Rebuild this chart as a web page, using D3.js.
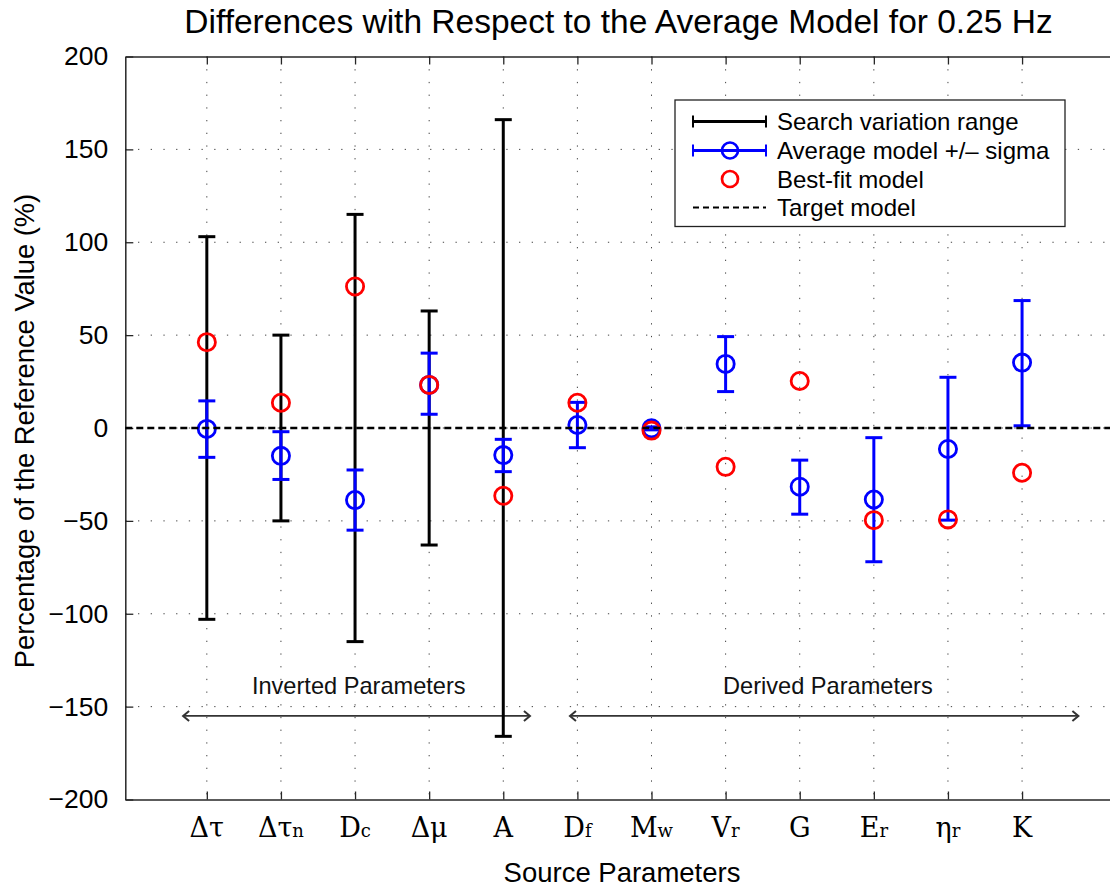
<!DOCTYPE html>
<html>
<head>
<meta charset="utf-8">
<script src="https://cdn.jsdelivr.net/npm/d3@7"></script>
<style>
  html, body { margin: 0; padding: 0; background: #fff; }
  svg { display: block; }
</style>
</head>
<body>
<svg id="chart" width="1110" height="888"></svg>
<script>
// ---------------- data ----------------
const categoryBase = ["Δτ", "Δτ", "D", "Δμ", "A", "D", "M", "V", "G", "E", "η", "K"];
const categorySub  = ["",   "n",  "c", "",   "",  "f", "w", "r", "",  "r", "r", ""];
const positions    = [1, 2, 3, 4, 5, 6, 7, 8, 9, 10, 11, 12];

// Search variation range (only inverted parameters)
const searchUpper = [103, 50, 115, 63, 166, null, null, null, null, null, null, null];
const searchLower = [-103, -50, -115, -63, -166, null, null, null, null, null, null, null];

// Average model +/- sigma
const avgMean  = [-0.5, -15, -38.8, 23.2, -14.6, 1.6, -0.2, 34.5, -31.6, -38.5, -11.3, 35.2];
const avgUpper = [14.6, -2, -22.6, 40.3, -6.1, 13.8, 0.6, 49.2, -17.3, -5.2, 27.3, 68.6];
const avgLower = [-15.8, -27.7, -55, 7.4, -23.5, -10.6, -1.0, 19.6, -46.4, -72, -49.6, 1.2];

// Best-fit model
const bestFit = [46.2, 13.6, 76.2, 23.2, -36.5, 13.6, -1.4, -20.9, 25.3, -49.6, -49.2, -24.1];

// Target model
const targetValue = 0;

const yTicks = [-200, -150, -100, -50, 0, 50, 100, 150, 200];

const groupLabels = ["Inverted Parameters", "Derived Parameters"];
const groupCenters = [3.05, 9.38];
const groupStart = [0.68, 5.90];
const groupEnd = [5.36, 12.76];
const groupArrowY = -155;
const groupTextY = -143;

const legendLabels = ["Search variation range", "Average model +/\u2013 sigma", "Best-fit model", "Target model"];

// ---------------- layout ----------------
const svg = d3.select("#chart");
const pLeft = 125.3, pRight = 1111, pTop = 56.5, pBottom = 799.5;
const x = d3.scaleLinear().domain([-0.1, 13.2]).range([pLeft, pRight]);
const y = d3.scaleLinear().domain([-200, 200]).range([pBottom, pTop]);

const sans = "'Liberation Sans', Arial, Helvetica, sans-serif";
const serif = "'DejaVu Serif', 'Liberation Serif', serif";

// grid
const grid = svg.append("g").attr("stroke", "#444").attr("stroke-width", 1)
  .attr("stroke-dasharray", "1.3,11.4").attr("fill", "none");
grid.selectAll("line.v").data(positions).join("line")
  .attr("x1", d => x(d)).attr("x2", d => x(d))
  .attr("y1", pTop).attr("y2", pBottom);
grid.selectAll("line.h").data(yTicks.filter(d => d > -200 && d < 200)).join("line")
  .attr("x1", pLeft).attr("x2", pRight)
  .attr("y1", d => y(d)).attr("y2", d => y(d));

// axes (MATLAB style inward ticks)
const axisColor = "#262626";
const yAxisL = d3.axisLeft(y).tickValues(yTicks).tickSizeInner(-8).tickSizeOuter(0).tickPadding(17)
  .tickFormat(d3.format("d"));
const gyl = svg.append("g").attr("transform", `translate(${pLeft},0)`).call(yAxisL);
gyl.select(".domain").attr("stroke", axisColor).attr("stroke-width", 1.5);
gyl.selectAll(".tick line").attr("stroke", axisColor).attr("stroke-width", 1.3);
gyl.selectAll(".tick text").attr("font-family", sans).attr("font-size", 26.5).attr("fill", "#000");

const xAxisB = d3.axisBottom(x).tickValues(positions).tickSizeInner(-8).tickSizeOuter(0).tickFormat("");
const gxb = svg.append("g").attr("transform", `translate(0,${pBottom})`).call(xAxisB);
gxb.select(".domain").attr("stroke", axisColor).attr("stroke-width", 1.5);
gxb.selectAll(".tick line").attr("stroke", axisColor).attr("stroke-width", 1.3);

const xAxisT = d3.axisTop(x).tickValues(positions).tickSizeInner(-8).tickSizeOuter(0).tickFormat("");
const gxt = svg.append("g").attr("transform", `translate(0,${pTop})`).call(xAxisT);
gxt.select(".domain").attr("stroke", axisColor).attr("stroke-width", 1.5);
gxt.selectAll(".tick line").attr("stroke", axisColor).attr("stroke-width", 1.3);

// x tick labels (serif with small subscript letters)
const xl = svg.append("g");
positions.forEach((p, i) => {
  const t = xl.append("text").attr("x", x(p)).attr("y", pBottom + 37)
    .attr("text-anchor", "middle").attr("font-family", serif).attr("font-size", 27).attr("fill", "#000");
  t.append("tspan").text(categoryBase[i]);
  if (categorySub[i]) t.append("tspan").attr("font-size", 18).text(categorySub[i]);
});

// axis titles and title
svg.append("text").attr("x", 618.5).attr("y", 33).attr("text-anchor", "middle")
  .attr("font-family", sans).attr("font-size", 33.5).attr("fill", "#000")
  .text("Differences with Respect to the Average Model for 0.25 Hz");
svg.append("text").attr("x", 622).attr("y", 882).attr("text-anchor", "middle")
  .attr("font-family", sans).attr("font-size", 27.5).attr("fill", "#000")
  .text("Source Parameters");
svg.append("text").attr("transform", `translate(34,${(192 + 670) / 2}) rotate(-90)`)
  .attr("text-anchor", "middle").attr("font-family", sans).attr("font-size", 27.3).attr("fill", "#000")
  .text("Percentage of the Reference Value (%)");

// group annotations
const ann = svg.append("g");
groupLabels.forEach((lab, i) => {
  ann.append("text").attr("x", x(groupCenters[i])).attr("y", y(groupTextY))
    .attr("text-anchor", "middle").attr("font-family", sans).attr("font-size", 23.6).attr("fill", "#111")
    .text(lab);
  const ya = y(groupArrowY), x1 = x(groupStart[i]), x2 = x(groupEnd[i]);
  ann.append("line").attr("x1", x1).attr("x2", x2).attr("y1", ya).attr("y2", ya)
    .attr("stroke", "#333").attr("stroke-width", 1.6);
  ann.append("path").attr("d", `M${x1 + 6},${ya - 5}L${x1},${ya}L${x1 + 6},${ya + 5}`)
    .attr("fill", "none").attr("stroke", "#333").attr("stroke-width", 2);
  ann.append("path").attr("d", `M${x2 - 6},${ya - 5}L${x2},${ya}L${x2 - 6},${ya + 5}`)
    .attr("fill", "none").attr("stroke", "#333").attr("stroke-width", 2);
});

// ---------------- marks ----------------
const capHalf = 8.5;
// search range (black)
const sData = positions.map((p, i) => ({ p, hi: searchUpper[i], lo: searchLower[i] })).filter(d => d.hi !== null);
const gs = svg.append("g").attr("stroke", "#000").attr("stroke-width", 3).attr("fill", "none");
gs.selectAll("line.bar").data(sData).join("line").attr("class", "bar")
  .attr("x1", d => x(d.p)).attr("x2", d => x(d.p)).attr("y1", d => y(d.hi)).attr("y2", d => y(d.lo));
gs.selectAll("line.capHi").data(sData).join("line").attr("class", "capHi")
  .attr("x1", d => x(d.p) - capHalf).attr("x2", d => x(d.p) + capHalf).attr("y1", d => y(d.hi)).attr("y2", d => y(d.hi));
gs.selectAll("line.capLo").data(sData).join("line").attr("class", "capLo")
  .attr("x1", d => x(d.p) - capHalf).attr("x2", d => x(d.p) + capHalf).attr("y1", d => y(d.lo)).attr("y2", d => y(d.lo));

// average (blue)
const aData = positions.map((p, i) => ({ p, m: avgMean[i], hi: avgUpper[i], lo: avgLower[i] }));
const ga = svg.append("g").attr("stroke", "#0000ff").attr("stroke-width", 3).attr("fill", "none");
ga.selectAll("line.bar").data(aData).join("line").attr("class", "bar")
  .attr("x1", d => x(d.p)).attr("x2", d => x(d.p)).attr("y1", d => y(d.hi)).attr("y2", d => y(d.lo));
ga.selectAll("line.capHi").data(aData).join("line").attr("class", "capHi")
  .attr("x1", d => x(d.p) - capHalf).attr("x2", d => x(d.p) + capHalf).attr("y1", d => y(d.hi)).attr("y2", d => y(d.hi));
ga.selectAll("line.capLo").data(aData).join("line").attr("class", "capLo")
  .attr("x1", d => x(d.p) - capHalf).attr("x2", d => x(d.p) + capHalf).attr("y1", d => y(d.lo)).attr("y2", d => y(d.lo));
ga.selectAll("circle").data(aData).join("circle")
  .attr("cx", d => x(d.p)).attr("cy", d => y(d.m)).attr("r", 8.6).attr("stroke-width", 2.8);

// best-fit (red)
svg.append("g").selectAll("circle").data(positions.map((p, i) => ({ p, v: bestFit[i] }))).join("circle")
  .attr("cx", d => x(d.p)).attr("cy", d => y(d.v)).attr("r", 8.6)
  .attr("fill", "none").attr("stroke", "#ff0000").attr("stroke-width", 2.8);

// target (dashed)
svg.append("line").attr("x1", pLeft).attr("x2", pRight).attr("y1", y(targetValue)).attr("y2", y(targetValue))
  .attr("stroke", "#000").attr("stroke-width", 2.5).attr("stroke-dasharray", "7,4");

// ---------------- legend ----------------
const lg = svg.append("g");
lg.append("rect").attr("x", 675).attr("y", 100).attr("width", 390).attr("height", 126.5)
  .attr("fill", "#fff").attr("stroke", "#222").attr("stroke-width", 1.3);
const rowY = [121.5, 150.5, 179, 207.5];
const lx1 = 693, lx2 = 766, lxc = 730, ltx = 777;
legendLabels.forEach((lab, i) => {
  lg.append("text").attr("x", ltx).attr("y", rowY[i] + 8.5).attr("font-family", sans)
    .attr("font-size", 24).attr("fill", "#000").text(lab);
});
// row 0: black error bar
lg.append("line").attr("x1", lx1).attr("x2", lx2).attr("y1", rowY[0]).attr("y2", rowY[0]).attr("stroke", "#000").attr("stroke-width", 3);
[lx1, lx2].forEach(xx => lg.append("line").attr("x1", xx).attr("x2", xx).attr("y1", rowY[0] - 6).attr("y2", rowY[0] + 6).attr("stroke", "#000").attr("stroke-width", 2));
// row 1: blue
lg.append("line").attr("x1", lx1).attr("x2", lx2).attr("y1", rowY[1]).attr("y2", rowY[1]).attr("stroke", "#0000ff").attr("stroke-width", 3);
[lx1, lx2].forEach(xx => lg.append("line").attr("x1", xx).attr("x2", xx).attr("y1", rowY[1] - 6).attr("y2", rowY[1] + 6).attr("stroke", "#0000ff").attr("stroke-width", 2));
lg.append("circle").attr("cx", lxc).attr("cy", rowY[1]).attr("r", 8).attr("fill", "none").attr("stroke", "#0000ff").attr("stroke-width", 2.7);
// row 2: red circle
lg.append("circle").attr("cx", lxc).attr("cy", rowY[2]).attr("r", 8).attr("fill", "none").attr("stroke", "#ff0000").attr("stroke-width", 2.7);
// row 3: dashed
lg.append("line").attr("x1", lx1).attr("x2", lx2).attr("y1", rowY[3]).attr("y2", rowY[3]).attr("stroke", "#000").attr("stroke-width", 2.2).attr("stroke-dasharray", "6,4");
</script>
</body>
</html>
